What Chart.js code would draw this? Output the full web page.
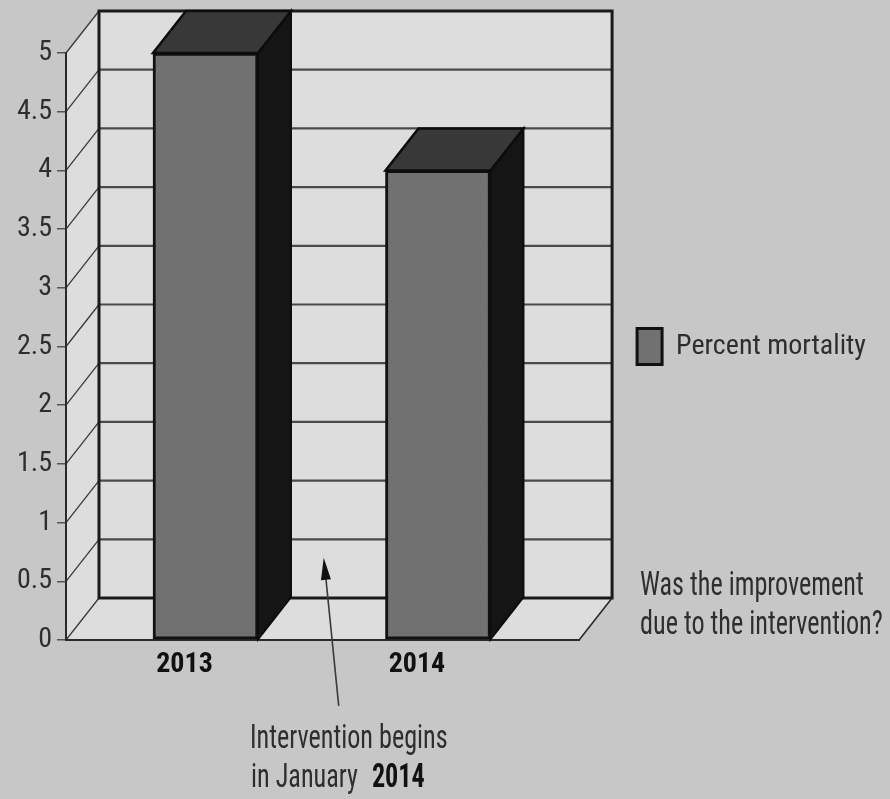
<!DOCTYPE html>
<html>
<head>
<meta charset="utf-8">
<script src="https://cdn.jsdelivr.net/npm/chart.js@4.4.1/dist/chart.umd.min.js"></script>
<style>
  html, body { margin: 0; padding: 0; background: #c7c7c7; }
  canvas { display: block; }
</style>
</head>
<body>
<canvas id="c" width="890" height="799"></canvas>
<script>
// ---- data ----
const categories = ['2013', '2014'];
const mortality = [5.0, 4.0];
const seriesLabel = 'Percent mortality';
const yTicks = [0, 0.5, 1, 1.5, 2, 2.5, 3, 3.5, 4, 4.5, 5];
const questionLines = ['Was the improvement', 'due to the intervention?'];
const arrowNoteLines = ['Intervention begins', 'in January'];
const arrowNoteYear = '2014';
const interventionAt = 0.5;   // x position between the two years
const arrowTipValue = 0.7;    // y value the arrow points to

// ---- style ----
const FONT = '"Liberation Sans Narrow", "Arial Narrow", "Roboto Condensed", Roboto, sans-serif';
const FS = 28;
const TEXT = '#2e2e2e';
const BG = '#c7c7c7', WALL = '#dddddd', GRID = '#4a4a4a', EDGE = '#1a1a1a';
const DX = 33, DY = -42;

function poly(ctx, pts) {
  ctx.beginPath();
  ctx.moveTo(pts[0][0], pts[0][1]);
  for (let i = 1; i < pts.length; i++) ctx.lineTo(pts[i][0], pts[i][1]);
  ctx.closePath();
}
function line(ctx, x1, y1, x2, y2, w, c) {
  ctx.beginPath(); ctx.moveTo(x1, y1); ctx.lineTo(x2, y2);
  ctx.lineWidth = w; ctx.strokeStyle = c; ctx.stroke();
}
// tall, condensed text like the scanned figure
function narrowText(ctx, txt, x, y, font, color, sx) {
  ctx.save();
  ctx.translate(x, y); ctx.scale(sx, 1);
  ctx.font = font; ctx.fillStyle = color;
  ctx.fillText(txt, 0, 0);
  const w = ctx.measureText(txt).width * sx;
  ctx.restore();
  return w;
}

const threeD = {
  id: 'threeD',
  beforeDraw(chart) {
    const { ctx, chartArea: a, scales: { x, y } } = chart;
    const top = y.getPixelForValue(yTicks[yTicks.length - 1]);
    const bot = y.getPixelForValue(0);
    const L = a.left, R = a.right;
    ctx.save();
    ctx.fillStyle = BG; ctx.fillRect(0, 0, chart.width, chart.height);
    ctx.fillStyle = WALL;
    ctx.fillRect(L + DX, top + DY, R - L, bot - top);
    poly(ctx, [[L, top], [L + DX, top + DY], [L + DX, bot + DY], [L, bot]]); ctx.fill();
    poly(ctx, [[L, bot], [L + DX, bot + DY], [R + DX, bot + DY], [R, bot]]); ctx.fill();
    yTicks.forEach(v => {
      const py = y.getPixelForValue(v);
      if (v > 0 && v < 5) line(ctx, L + DX, py + DY, R + DX, py + DY, 2.2, GRID);
      line(ctx, L, py, L + DX, py + DY, 1.3, '#3a3a3a');
    });
    ctx.lineWidth = 3; ctx.strokeStyle = EDGE;
    ctx.strokeRect(L + DX, top + DY, R - L, bot - top);
    line(ctx, R, bot, R + DX, bot + DY, 1.6, '#2a2a2a');
    ctx.restore();
  },
  afterDatasetsDraw(chart) {
    const { ctx } = chart;
    const meta = chart.getDatasetMeta(0);
    ctx.save();
    meta.data.forEach(bar => {
      const p = bar.getProps(['x', 'y', 'base', 'width'], true);
      const x1 = p.x - p.width / 2, x2 = p.x + p.width / 2;
      const yt = p.y, yb = p.base;
      poly(ctx, [[x2, yt], [x2 + DX, yt + DY], [x2 + DX, yb + DY], [x2, yb]]);
      ctx.fillStyle = '#151515'; ctx.fill();
      ctx.lineWidth = 2; ctx.strokeStyle = '#0c0c0c'; ctx.stroke();
      poly(ctx, [[x1, yt], [x1 + DX, yt + DY], [x2 + DX, yt + DY], [x2, yt]]);
      ctx.fillStyle = '#383838'; ctx.fill();
      ctx.lineWidth = 2.5; ctx.strokeStyle = '#0c0c0c'; ctx.stroke();
    });
    ctx.restore();
  },
  afterDraw(chart) {
    const { ctx, scales: { x, y } } = chart;
    ctx.save();
    // arrow
    const tipX = x.getPixelForValue(interventionAt) + 2;
    const tipY = y.getPixelForValue(arrowTipValue);
    const tailX = tipX + 15, tailY = tipY + 148;
    line(ctx, tailX, tailY, tipX + 1.5, tipY + 14, 1.6, '#3a3a3a');
    const ang = Math.atan2(tipY - tailY, tipX - tailX);
    const hl = 22, hw = 5;
    const bx = tipX - hl * Math.cos(ang), by = tipY - hl * Math.sin(ang);
    poly(ctx, [[tipX, tipY],
      [bx + hw * Math.sin(ang), by - hw * Math.cos(ang)],
      [bx - hw * Math.sin(ang), by + hw * Math.cos(ang)]]);
    ctx.fillStyle = '#111'; ctx.fill();
    // texts
    ctx.textBaseline = 'alphabetic'; ctx.textAlign = 'left';
    const f = '34px ' + FONT, fb = 'bold 34px ' + FONT, sx = 0.77;
    narrowText(ctx, questionLines[0], 640, 595, f, TEXT, sx);
    narrowText(ctx, questionLines[1], 640, 634, f, TEXT, sx);
    narrowText(ctx, arrowNoteLines[0], 250, 748, f, TEXT, sx);
    const w = narrowText(ctx, arrowNoteLines[1], 251, 787, f, TEXT, sx);
    narrowText(ctx, arrowNoteYear, 251 + w + 14, 787, fb, '#111', sx);
    ctx.restore();
  }
};

new Chart(document.getElementById('c'), {
  type: 'bar',
  data: {
    datasets: [{
      label: seriesLabel,
      data: categories.map((c, i) => ({ x: i, y: mortality[i] })),
      backgroundColor: '#717171',
      borderColor: '#111111',
      borderWidth: 3,
      borderSkipped: false,
      barThickness: 105
    }]
  },
  options: {
    responsive: false,
    animation: false,
    layout: { padding: { top: 53, left: 0, right: 14, bottom: 0 } },
    plugins: {
      tooltip: { enabled: false },
      legend: {
        position: 'right',
        fullSize: false,
        align: 'center',
        maxWidth: 420,
        labels: {
          boxWidth: 25, boxHeight: 36, padding: 58,
          color: TEXT, font: { family: FONT, size: FS }
        }
      }
    },
    scales: {
      x: {
        type: 'linear',
        min: -0.6, max: 1.607,
        offset: false,
        afterBuildTicks: s => { s.ticks = categories.map((c, i) => ({ value: i })); },
        afterFit: s => { s.height = 159; },
        grid: { display: false, drawTicks: false },
        border: { display: true, color: '#2a2a2a', width: 2 },
        ticks: {
          callback: v => categories[v],
          labelOffset: -21, padding: 8,
          color: '#111', font: { family: FONT, size: FS, weight: 'bold' },
          maxRotation: 0
        }
      },
      y: {
        min: 0, max: 5,
        afterBuildTicks: s => { s.ticks = yTicks.map(v => ({ value: v })); },
        afterFit: s => { s.width = 66; },
        grid: { drawOnChartArea: false, drawTicks: true, tickLength: 9, color: '#555', lineWidth: 1.5 },
        border: { display: true, color: '#2a2a2a', width: 2 },
        ticks: {
          padding: 5,
          color: TEXT, font: { family: FONT, size: FS },
          callback: v => String(v)
        }
      }
    }
  },
  plugins: [threeD]
});
</script>
</body>
</html>
